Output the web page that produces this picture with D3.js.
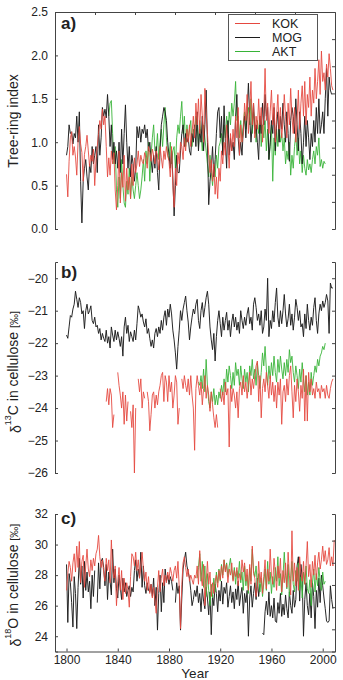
<!DOCTYPE html>
<html><head><meta charset="utf-8">
<script src="https://cdn.jsdelivr.net/npm/d3@7"></script>
<style>
body{margin:0;background:#fff}
svg{display:block}
text{font-family:"Liberation Sans",Arial,Helvetica,sans-serif;fill:#222}
</style>
</head><body>
<svg id="chart" width="343" height="680"></svg>
<script>
// ---------- DATA ----------
const seriesNames = ["KOK", "MOG", "AKT"];
const xTicks = [1800, 1840, 1880, 1920, 1960, 2000];
const ringTicks = [0, 0.5, 1, 1.5, 2, 2.5];
const c13Ticks = [-20, -21, -22, -23, -24, -25, -26];
const o18Ticks = [24, 26, 28, 30, 32];

// (a) tree-ring index
const kokRingStart = 1800;
const kokRing = [
0.63,0.37,0.78,1.05,1.12,0.85,0.95,0.83,0.62,1.0,
1.18,0.98,0.88,0.55,0.86,0.95,1.08,0.9,0.72,0.85,
0.78,0.92,0.5,0.8,0.95,1.1,1.25,1.15,1.38,1.2,
1.3,0.95,0.6,0.82,0.62,0.9,0.75,0.88,0.45,0.22,
0.5,0.9,0.3,0.65,0.48,0.85,0.32,0.7,0.45,0.6,
0.35,0.75,0.5,0.82,0.65,0.75,0.9,0.72,0.85,0.78,
0.75,0.88,0.82,0.7,0.95,0.88,0.78,0.92,0.85,0.75,
0.9,0.85,0.68,0.95,0.82,0.7,0.9,0.8,0.95,0.85,
0.78,0.6,0.95,0.5,0.25,0.7,0.5,0.88,0.75,1.0,
0.95,0.8,1.05,0.9,1.15,1.0,1.2,0.95,1.1,1.3,
1.05,1.45,1.2,1.5,1.1,1.55,1.3,1.0,1.62,1.35,
1.1,0.85,0.65,0.8,0.55,0.75,0.4,0.6,0.35,0.7,
0.55,0.9,0.75,1.0,0.85,1.2,0.95,0.7,1.1,0.9,
1.15,0.95,1.3,1.05,1.4,0.85,1.2,1.0,1.1,1.45,
1.25,1.55,1.1,1.35,1.7,1.2,1.45,1.05,1.3,1.15,
1.5,1.2,1.4,1.0,1.3,1.85,1.25,1.45,1.1,1.35,
1.6,1.2,1.45,1.0,1.3,1.55,1.15,1.4,1.05,1.25,
1.55,1.3,1.05,1.45,1.2,1.62,1.3,1.1,1.4,1.0,
1.25,1.6,1.15,1.45,1.65,1.3,1.7,1.2,1.55,1.4,
1.75,1.3,1.6,1.45,1.85,1.5,1.7,1.95,1.55,2.05,
1.7,1.8,1.6,1.9,1.75,2.02,1.85,1.65,1.6];

const mogRingStart = 1800;
const mogRing = [
0.85,0.95,1.2,1.1,1.12,0.98,1.1,1.05,1.3,1.0,
1.35,0.55,0.07,0.55,0.7,0.8,0.6,0.45,0.75,0.65,
0.95,0.75,0.85,0.95,0.65,1.2,0.85,1.05,1.4,1.3,
1.38,1.28,1.55,1.3,0.95,1.2,0.8,1.0,0.75,0.9,
0.7,1.0,0.65,1.15,0.75,1.1,1.43,1.0,0.7,0.95,
0.6,0.85,0.75,0.55,0.7,1.18,1.05,1.18,1.0,1.15,
1.1,1.2,1.05,1.15,0.9,1.0,0.8,0.65,0.85,0.7,
0.95,0.65,0.45,0.9,1.2,1.3,1.4,1.35,1.25,1.0,
0.85,0.7,0.9,0.6,0.15,0.5,0.85,0.65,0.65,0.9,
1.1,1.2,0.95,1.1,1.0,1.05,0.9,0.85,1.1,1.0,
1.2,0.95,1.35,0.9,1.15,1.0,1.3,0.9,1.2,1.6,
1.0,0.28,0.55,0.7,0.95,0.6,0.8,1.1,1.35,1.4,
1.05,1.3,0.85,1.42,1.0,0.7,1.25,0.85,1.05,0.9,
1.0,0.8,1.3,1.55,1.05,0.85,1.0,0.85,1.15,1.3,
1.05,1.35,1.68,1.3,1.0,1.2,1.45,1.1,1.2,1.0,
0.8,1.3,1.1,1.45,1.2,1.55,1.3,1.4,0.8,1.0,
1.25,1.1,1.4,0.9,1.2,1.35,1.0,1.3,1.15,1.45,
1.2,1.0,1.35,1.1,0.78,1.25,1.4,1.3,1.1,1.5,
1.2,0.9,1.35,1.1,0.75,1.0,1.3,0.95,1.25,1.05,
0.8,1.1,0.95,1.25,1.0,1.4,1.1,1.5,1.1,1.2,
1.35,1.1,1.5,1.85,1.3,1.75,1.6,1.55];

const aktRingStart = 1833;
const aktRing = [
1.3,1.45,1.48,1.1,0.75,0.95,0.45,
0.25,0.6,0.35,0.8,0.5,0.3,0.25,0.55,0.4,0.7,
0.35,0.6,0.45,0.35,0.5,0.65,0.5,0.35,0.45,0.6,
0.8,0.55,0.9,0.75,1.0,0.55,0.85,1.05,1.2,0.9,
0.9,1.1,0.8,1.0,1.15,0.95,1.2,1.4,1.05,0.85,
0.8,1.0,0.75,0.9,0.95,0.7,1.05,1.2,1.1,1.3,
1.47,1.1,1.3,0.95,1.2,1.05,1.15,1.25,0.95,1.15,
1.1,1.3,1.2,0.95,1.25,1.1,0.9,1.2,1.05,0.9,
0.75,0.6,0.85,0.65,0.5,0.7,0.6,0.85,0.7,0.95,
1.0,1.1,0.9,1.2,1.05,1.3,1.1,1.35,1.2,1.45,
1.3,1.45,1.7,1.25,1.3,1.05,1.25,1.0,1.2,1.35,
1.15,1.3,1.4,1.2,1.5,1.1,1.35,1.2,1.0,1.25,
1.1,1.3,0.95,1.2,1.05,1.25,0.9,1.15,0.8,0.95,
1.2,0.55,1.05,0.85,1.15,0.95,1.2,1.0,1.1,0.9,
1.05,0.75,0.9,0.8,1.0,0.62,0.85,0.7,0.95,1.1,
0.85,1.05,0.75,0.9,0.65,0.85,0.7,0.62,0.8,0.68,
0.75,0.65,0.8,0.9,0.75,0.95,0.85,1.05,0.72,0.8,
0.7,0.78,0.75];

// (b) delta 13C
const kokC13Start = 1831;
const kokC13 = [
-23.8,-23.4,-23.9,-23.4,-23.6,-24.6,-24.2,null,null,
-22.9,-23.3,-23.6,-24.0,-23.5,-24.5,-23.6,-24.4,-23.8,null,
-24.1,-24.6,-23.9,-26.0,-24.0,null,-23.1,-23.5,-23.1,-24.0,
-23.5,-23.7,null,-23.5,-23.8,-24.7,-24.2,-23.6,-23.5,-24.0,
-23.6,-23.9,-23.5,-23.3,-23.0,-22.9,-23.8,-23.0,-23.2,-23.8,
-23.0,-23.5,-23.2,-24.0,-23.6,-23.0,-23.2,-24.5,-24.0,null,
-23.1,-23.4,-23.0,-23.3,-23.5,-23.1,-23.6,-23.0,-23.6,-24.0,
-25.3,-23.4,-23.0,-23.3,-23.6,-23.2,-23.9,-23.4,-23.0,-23.7,
-23.3,-23.6,-24.1,-23.5,-23.9,-24.3,-24.6,-24.2,-24.6,null,
-23.4,-23.8,-23.5,-23.9,-23.2,-23.6,-23.4,-25.2,-23.3,-23.8,
-23.4,-23.6,-24.0,-23.5,-24.3,-23.4,-23.2,-23.6,-23.0,-23.5,
-23.2,-23.7,-23.3,-22.9,-23.6,-23.1,-23.4,-23.0,-22.7,-22.55,
-23.8,-23.0,-24.3,-23.4,-23.1,-23.5,-22.9,-23.3,-23.7,-23.0,
-23.6,-23.2,-23.8,-23.3,-24.0,-23.2,-23.6,-23.1,-24.5,-23.5,
-23.3,-23.8,-23.1,-23.6,-23.0,-22.7,-23.5,-24.3,-23.3,-23.8,
-23.1,-23.5,-24.1,-23.3,-23.7,-22.8,-24.4,-23.0,-24.4,-22.9,
-23.5,-23.1,-23.6,-23.4,-23.7,-23.2,-23.5,-23.4,-23.7,-23.3,
-23.5,-23.4,-23.7,-23.3,-23.6,-23.7,-23.4,-23.2,-23.1];

const mogC13Start = 1800;
const mogC13 = [
-21.75,-21.85,-21.5,-21.15,-21.2,-20.95,-20.8,-20.4,-20.65,-20.9,
-20.6,-20.75,-21.1,-21.0,-21.55,-21.0,-20.8,-21.1,-21.0,-20.85,
-21.3,-21.4,-21.2,-21.5,-21.45,-21.7,-21.55,-21.9,-21.7,-21.85,
-21.95,-21.6,-22.0,-21.8,-22.15,-21.5,-21.75,-21.95,-21.6,-21.9,
-21.65,-21.85,-22.1,-21.8,-22.4,-21.5,-21.2,-21.7,-21.45,-21.95,
-21.65,-21.8,-21.95,-21.6,-21.9,-21.4,-20.85,-21.0,-21.2,-21.1,
-21.35,-21.5,-21.25,-21.7,-21.55,-21.85,-22.1,-21.9,-22.15,-21.7,
-21.55,-21.8,-21.5,-21.7,-21.3,-21.6,-21.2,-21.0,-21.45,-20.95,
-21.2,-20.8,-21.1,-21.6,-21.9,-22.3,-22.8,-22.1,-21.6,-21.0,
-21.3,-20.95,-20.75,-20.55,-21.0,-21.35,-21.9,-21.5,-21.2,-20.95,
-21.1,-20.8,-20.65,-21.3,-21.55,-21.0,-20.75,-21.2,-20.9,-20.6,
-20.4,-20.8,-21.5,-21.9,-22.2,-21.7,-22.55,-21.8,-21.3,-21.0,
-21.4,-21.8,-21.2,-21.6,-21.3,-21.05,-21.6,-21.3,-21.8,-21.35,
-21.1,-21.5,-21.2,-21.6,-21.35,-21.7,-21.0,-21.3,-21.55,-21.2,
-21.45,-21.1,-20.9,-21.4,-21.2,-21.6,-20.8,-20.6,-20.9,-21.3,
-21.1,-21.45,-21.0,-21.7,-21.5,-20.95,-21.3,-20.0,-21.8,-21.3,
-21.55,-21.0,-21.35,-20.75,-20.3,-21.2,-21.5,-21.0,-21.4,-21.0,
-20.5,-21.1,-21.5,-21.25,-20.8,-21.45,-21.1,-21.6,-21.2,-20.65,
-20.9,-21.3,-21.0,-21.5,-21.4,-21.8,-21.1,-21.55,-20.8,-21.3,
-21.6,-21.2,-21.45,-20.9,-20.6,-21.3,-21.7,-21.1,-20.8,-21.0,
-20.7,-20.9,-20.75,-20.5,-20.7,-21.7,-20.15,-20.3,-20.3];

const aktC13Start = 1903;
const aktC13 = [
-23.2,-23.3,-23.0,-23.4,-22.8,-23.5,-22.5,
-23.3,-23.8,-24.0,-23.5,-23.8,-23.4,-23.9,-23.6,-23.9,-23.5,
-23.7,-23.3,-23.6,-23.1,-23.5,-22.8,-23.2,-22.7,-23.0,-23.4,
-22.9,-23.3,-22.6,-23.0,-22.8,-23.3,-22.7,-23.1,-23.4,-22.8,
-23.2,-22.9,-23.5,-22.7,-23.0,-22.5,-23.1,-22.8,-23.3,-22.6,
-23.0,-23.4,-22.9,-22.3,-22.7,-22.1,-22.8,-23.3,-22.7,-23.1,
-22.6,-23.0,-22.4,-22.9,-23.2,-22.5,-22.9,-22.4,-22.8,-23.1,
-22.6,-23.0,-22.5,-22.9,-22.2,-22.6,-22.4,-22.9,-23.2,-22.7,
-23.0,-23.4,-22.8,-23.2,-22.6,-23.1,-23.5,-23.0,-23.6,-23.2,
-23.6,-22.9,-23.3,-23.0,-22.7,-22.9,-22.5,-22.7,-22.4,-22.3,
-22.1,-22.2,-22.0];

// (c) delta 18O
const kokO18Start = 1800;
const kokO18 = [
27.0,28.1,28.9,28.5,27.6,28.8,29.4,28.2,29.9,28.5,
30.2,27.5,28.9,29.3,27.2,28.6,29.7,28.4,27.9,29.0,
28.3,29.1,28.6,29.4,29.7,30.6,29.2,28.5,29.0,28.2,
27.6,29.1,28.3,29.0,27.5,30.3,28.4,27.8,28.6,26.0,
27.6,28.5,27.0,28.3,26.4,27.8,26.8,27.5,27.0,25.9,
27.9,29.4,29.2,28.6,29.5,28.3,29.0,27.8,28.6,29.5,
28.4,27.6,28.2,27.0,27.9,26.8,27.4,26.5,27.2,26.3,
25.5,27.2,28.3,26.9,27.8,28.4,27.3,28.0,27.5,28.2,
27.7,28.5,28.1,27.6,28.3,28.6,27.8,28.9,27.2,24.5,
27.4,28.8,29.2,28.5,27.9,28.4,27.6,28.0,27.7,27.4,
28.0,27.8,28.6,27.4,29.6,27.9,27.3,28.7,26.0,27.5,
28.9,27.4,28.2,26.6,27.5,26.8,27.6,28.0,27.2,28.3,
27.7,28.6,27.8,29.0,28.2,28.7,27.5,28.4,28.0,28.8,
27.6,28.3,27.9,28.5,27.3,28.1,27.7,29.0,28.2,28.8,
27.6,28.4,27.0,28.7,27.4,29.9,28.1,27.8,26.6,27.2,
28.9,27.5,28.2,26.8,27.9,29.0,27.1,28.4,27.6,29.7,
28.0,27.4,29.1,28.2,27.0,28.6,27.8,29.1,26.9,28.3,
27.5,28.8,27.2,29.5,28.0,26.7,30.9,27.6,28.8,27.3,
28.5,27.0,29.2,28.1,27.6,28.9,27.4,28.6,30.2,27.9,
28.7,27.2,28.9,28.0,29.3,27.7,28.8,29.5,28.4,29.0,
29.9,28.9,29.6,28.7,29.0,29.8,28.6,29.2,28.6,30.3];

const mogO18Start = 1800;
const mogO18 = [
28.7,24.9,28.1,27.5,26.2,24.6,27.9,26.8,24.5,27.2,
29.1,27.4,28.6,26.5,28.9,27.0,28.2,26.9,27.6,25.8,
28.0,26.6,28.3,null,26.2,28.8,27.1,28.9,29.1,28.5,
27.3,28.7,26.4,28.2,27.6,26.7,29.7,27.5,28.4,27.1,
26.5,28.0,27.2,26.4,27.8,26.9,27.5,26.6,27.0,27.3,
26.6,27.2,26.9,28.3,29.0,27.6,28.4,27.8,29.5,27.2,
28.6,27.3,26.8,27.5,27.0,26.9,27.4,26.6,27.8,26.0,
27.2,24.4,26.8,28.0,25.6,27.5,26.2,28.4,27.6,28.0,
27.4,27.9,27.6,27.0,null,26.2,27.5,26.8,27.3,24.4,
26.5,28.4,29.0,29.5,28.6,28.2,27.8,27.0,26.0,26.4,
27.0,26.6,27.3,26.2,26.8,25.6,27.1,26.3,25.8,27.2,
26.5,25.4,26.9,24.1,26.7,26.0,27.4,26.8,25.6,27.0,
26.3,27.6,26.1,27.2,26.8,27.5,25.9,26.6,27.3,26.2,
26.9,25.8,27.1,26.4,27.6,26.0,26.7,27.2,25.5,26.8,
26.2,27.0,24.0,26.5,27.3,25.9,26.8,27.5,26.4,27.8,
26.6,27.4,null,24.2,24.1,25.6,26.3,25.4,26.9,25.3,
26.0,25.2,26.5,25.0,24.9,26.2,25.5,26.8,25.3,26.1,
25.4,26.7,25.8,25.2,26.9,26.0,25.5,27.0,25.9,26.4,
28.6,29.2,26.3,28.7,27.8,24.0,26.4,27.5,26.0,25.4,
26.8,25.2,27.5,26.6,24.5,27.0,25.9,27.8,26.2,28.0,
27.3,26.5,25.8,25.0,24.9,25.0,27.3,26.4,25.8];

const aktO18Start = 1902;
const aktO18 = [
27.8,28.5,29.4,27.6,28.9,27.2,28.6,26.6,28.1,
27.0,26.0,27.4,26.5,27.8,26.9,28.2,27.5,28.4,27.6,
28.7,28.0,29.0,28.3,28.8,27.9,28.6,29.1,28.2,27.7,
28.5,27.4,28.3,27.8,28.9,27.5,28.2,27.0,28.6,27.3,
28.0,26.8,28.5,27.6,29.7,28.3,27.9,28.6,27.2,28.1,
26.9,27.8,26.6,27.5,28.4,27.0,28.9,27.4,28.2,26.8,
27.9,27.2,28.5,27.6,29.2,27.3,28.1,26.7,27.9,29.5,
28.0,27.1,28.7,26.6,27.8,28.9,27.4,26.9,28.3,27.6,
28.8,27.0,27.9,26.5,28.2,27.4,28.6,27.1,26.8,27.7,
26.0,27.5,28.4,26.9,28.1,27.3,28.5,27.6,27.0,28.2,
27.4,27.6];

// ---------- STYLE ----------
const colors = { KOK: "#e5483f", MOG: "#1c1c1c", AKT: "#37b337" };
const W = 343, H = 680;
const left = 55, right = 335;

const svg = d3.select("#chart");
const x = d3.scaleLinear().domain([1791, 2009.6]).range([left, right]);

const toPoints = (start, arr) => arr.map((v, i) => ({ year: start + i, v }));

const panels = [
  { id: "a", label: "a)", yDomain: [0, 2.5], yRange: [229, 12], ticks: ringTicks,
    fmt: d3.format(".1f"), rightParts: 8, topParts: 7, labelY: 29,
    series: [
      { name: "AKT", pts: toPoints(aktRingStart, aktRing) },
      { name: "MOG", pts: toPoints(mogRingStart, mogRing) },
      { name: "KOK", pts: toPoints(kokRingStart, kokRing) } ] },
  { id: "b", label: "b)", yDomain: [-26, -19.5], yRange: [473, 262], ticks: c13Ticks,
    fmt: d3.format("d"), rightTicks: c13Ticks, labelY: 278,
    series: [
      { name: "MOG", pts: toPoints(mogC13Start, mogC13) },
      { name: "AKT", pts: toPoints(aktC13Start, aktC13) },
      { name: "KOK", pts: toPoints(kokC13Start, kokC13) } ] },
  { id: "c", label: "c)", yDomain: [23, 32], yRange: [651.5, 514], ticks: o18Ticks,
    fmt: d3.format("d"), rightParts: 6.2, labelY: 524, bottom: true,
    series: [
      { name: "MOG", pts: toPoints(mogO18Start, mogO18) },
      { name: "AKT", pts: toPoints(aktO18Start, aktO18) },
      { name: "KOK", pts: toPoints(kokO18Start, kokO18) } ] }
];

panels.forEach(p => {
  const y = d3.scaleLinear().domain(p.yDomain).range(p.yRange);
  const g = svg.append("g").attr("class", "panel-" + p.id);

  // lines
  const line = d3.line().defined(d => d.v !== null && d.v !== undefined)
    .x(d => x(d.year)).y(d => y(d.v));
  p.series.forEach(s => {
    g.append("path").datum(s.pts)
      .attr("fill", "none")
      .attr("stroke", colors[s.name])
      .attr("stroke-width", 1)
      .attr("stroke-opacity", s.name === "MOG" ? 0.95 : 0.88)
      .attr("stroke-linejoin", "round")
      .attr("d", line);
  });

  // left axis
  const la = g.append("g").attr("transform", `translate(${left},0)`)
    .call(d3.axisLeft(y).tickValues(p.ticks).tickFormat(p.fmt)
      .tickSizeInner(-3).tickSizeOuter(-3).tickPadding(7));
  la.selectAll("text").attr("font-size", 12).attr("fill", "#222")
    .attr("font-family", '"Liberation Sans",Arial,sans-serif');
  la.selectAll("path,line").attr("stroke", "#444");

  // right frame
  let ry, rTicks;
  if (p.rightTicks) { ry = y; rTicks = p.rightTicks; }
  else {
    ry = d3.scaleLinear().domain([0, p.rightParts]).range(p.yRange);
    rTicks = d3.range(1, Math.floor(p.rightParts));
  }
  const ra = g.append("g").attr("transform", `translate(${right},0)`)
    .call(d3.axisRight(ry).tickValues(rTicks).tickFormat("")
      .tickSizeInner(-3).tickSizeOuter(-3));
  ra.selectAll("path,line").attr("stroke", "#444");

  // top frame (panel a)
  if (p.topParts) {
    const tx = d3.scaleLinear().domain([0, p.topParts]).range([left, right]);
    const ta = g.append("g").attr("transform", `translate(0,${p.yRange[1]})`)
      .call(d3.axisTop(tx).tickValues(d3.range(1, p.topParts)).tickFormat("")
        .tickSizeInner(-3).tickSizeOuter(0));
    ta.selectAll("path,line").attr("stroke", "#444");
  }

  // bottom axis (panel c)
  if (p.bottom) {
    const ba = g.append("g").attr("transform", `translate(0,${p.yRange[0]})`)
      .call(d3.axisBottom(x).tickValues(xTicks).tickFormat(d3.format("d"))
        .tickSizeInner(-3).tickSizeOuter(0).tickPadding(4));
    ba.selectAll("text").attr("font-size", 12).attr("fill", "#222")
      .attr("font-family", '"Liberation Sans",Arial,sans-serif');
    ba.selectAll("path,line").attr("stroke", "#444");
  }

  // panel letter
  g.append("text").attr("x", 61).attr("y", p.labelY)
    .attr("font-size", 17).attr("font-weight", "bold").attr("fill", "#111")
    .text(p.label);
});

// Y titles
svg.append("text").attr("transform", "translate(18,121) rotate(-90)")
  .attr("text-anchor", "middle").attr("font-size", 14).text("Tree-ring index");

function isoTitle(cy, sup, rest) {
  const t = svg.append("text").attr("transform", `translate(18,${cy}) rotate(-90)`)
    .attr("text-anchor", "middle").attr("font-size", 14);
  t.append("tspan").attr("dy", 3).text("δ");
  t.append("tspan").attr("font-size", 9).attr("dy", -10).text(sup);
  t.append("tspan").attr("dy", 7).text(rest);
  t.append("tspan").attr("font-size", 11).text("[‰]");
}
isoTitle(372, "13", "C in cellulose ");
isoTitle(585, "18", "O in cellulose ");

// X title
svg.append("text").attr("x", 195).attr("y", 678).attr("text-anchor", "middle")
  .attr("font-size", 13.5).text("Year");

// Legend
const leg = svg.append("g").attr("transform", "translate(228,14)");
leg.append("rect").attr("x", 0.5).attr("y", 0.5).attr("width", 89).attr("height", 46)
  .attr("fill", "#fff").attr("stroke", "#555");
seriesNames.forEach((n, i) => {
  const yy = 9.5 + i * 14;
  leg.append("line").attr("x1", 7).attr("x2", 32).attr("y1", yy).attr("y2", yy)
    .attr("stroke", colors[n]).attr("stroke-width", 1);
  leg.append("text").attr("x", 44).attr("y", yy + 4.5).attr("font-size", 12.5).text(n);
});
</script>
</body></html>
